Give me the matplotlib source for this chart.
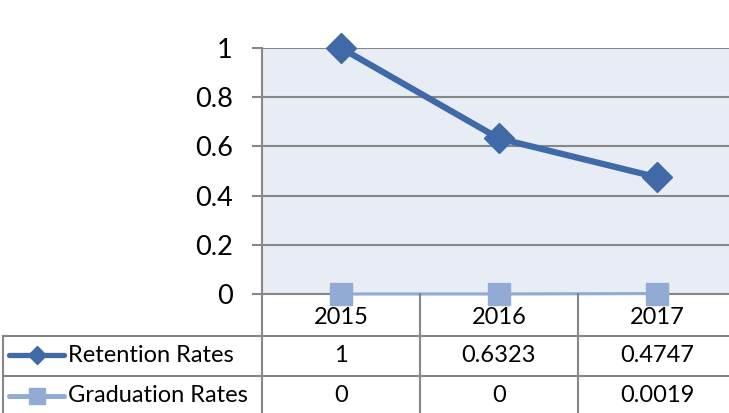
import matplotlib
matplotlib.use('Agg')
import matplotlib.pyplot as plt
from matplotlib.lines import Line2D

years = ['2015', '2016', '2017']
retention = [1, 0.6323, 0.4747]
graduation = [0, 0, 0.0019]
series_names = ['Retention Rates', 'Graduation Rates']
yticks = [0, 0.2, 0.4, 0.6, 0.8, 1]
ytick_labels = ['0', '0.2', '0.4', '0.6', '0.8', '1']

W, H = 729, 413
c_ret = '#3F6AA7'
c_grad = '#92ABD4'
c_grid = '#878787'
c_bg = '#E8ECF4'

plt.rcParams['font.family'] = ['Lato', 'DejaVu Sans']

fig = plt.figure(figsize=(W / 100, H / 100), dpi=100)


def fx(x):
    return x / W


def fy(y):
    return 1 - y / H


# plot area runs past the right edge like the original
left, right, top, bottom = 262, 736, 48, 294
ax = fig.add_axes([fx(left), fy(bottom), (right - left) / W, (bottom - top) / H])
ax.set_facecolor(c_bg)
ax.set_xlim(-0.5, len(years) - 0.5)
ax.set_ylim(0, 1)

ax.set_yticks(yticks)
ax.set_yticklabels(ytick_labels, fontsize=19.5)
ax.set_xticks([])
ax.tick_params(axis='y', length=7, width=1.5, color=c_grid, pad=14)
for t in yticks:
    ax.axhline(t, color=c_grid, lw=1.5, zorder=1)
for s in ['top', 'right']:
    ax.spines[s].set_visible(False)
ax.spines['left'].set_color(c_grid)
ax.spines['left'].set_linewidth(1.5)
ax.spines['bottom'].set_color(c_grid)
ax.spines['bottom'].set_linewidth(1.5)

x = list(range(len(years)))
ax.plot(x, graduation, color=c_grad, lw=2.2, marker='s', ms=16.5,
        mfc=c_grad, mec=c_grad, clip_on=False, zorder=4)
ax.plot(x, retention, color=c_ret, lw=4.5, marker='D', ms=15,
        mfc=c_ret, mec=c_ret, clip_on=False, zorder=5)

# data table under the plot
row_y = [294, 336, 376, 420]
col_x = [3, 262, 420, 578, 736]
lk = dict(color=c_grid, lw=1.5, transform=fig.transFigure, clip_on=False)
for y in row_y[1:3]:
    fig.add_artist(Line2D([fx(3), fx(W)], [fy(y), fy(y)], **lk))
fig.add_artist(Line2D([fx(3), fx(3)], [fy(336), fy(H)], **lk))
for cx in col_x[1:4]:
    fig.add_artist(Line2D([fx(cx), fx(cx)], [fy(294), fy(H)], **lk))

centers = [(col_x[i + 1] + col_x[i + 2]) / 2 for i in range(len(years))]
fs = 17
for cx, yr in zip(centers, years):
    fig.text(fx(cx), fy(317), yr, ha='center', va='center', fontsize=fs)

rows = [retention, graduation]
cols = [c_ret, c_grad]
marks = ['D', 's']
lws = [3.8, 3.6]
msz = [9.5, 11]
for r, (vals, name) in enumerate(zip(rows, series_names)):
    yc = (row_y[r + 1] + row_y[r + 2]) / 2 - 1
    if r == 1:
        yc = 396
    for cx, v in zip(centers, vals):
        fig.text(fx(cx), fy(yc), f'{v:g}', ha='center', va='center', fontsize=fs)
    fig.add_artist(Line2D([fx(9), fx(64)], [fy(yc), fy(yc)], color=cols[r],
                          lw=lws[r], solid_capstyle='round',
                          transform=fig.transFigure))
    fig.add_artist(Line2D([fx(37)], [fy(yc)], color=cols[r], marker=marks[r],
                          ms=msz[r], lw=0, transform=fig.transFigure))
    fig.text(fx(68), fy(yc), name, ha='left', va='center', fontsize=fs)

fig.savefig('out.png', dpi=100)
